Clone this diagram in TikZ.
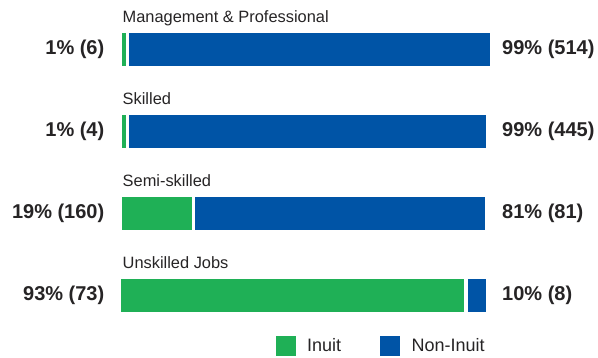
\documentclass[tikz,border=0pt]{standalone}
\usepackage{fontspec}
\setmainfont{Liberation Sans}
\definecolor{inuit}{RGB}{31,176,86}
\definecolor{noninuit}{RGB}{0,84,166}
\definecolor{txt}{RGB}{38,36,37}
\begin{document}
\begin{tikzpicture}[x=1pt,y=-1pt,
  bar/.style={anchor=north west,inner sep=0pt,minimum height=33pt},
  gbar/.style={bar,fill=inuit},
  bbar/.style={bar,fill=noninuit},
  cat/.style={anchor=base west,inner sep=0pt,text=txt,font=\fontsize{16.4}{19}\selectfont},
  lval/.style={anchor=east,inner sep=0pt,text=txt,font=\fontsize{20}{22}\selectfont\bfseries},
  rval/.style={anchor=west,inner sep=0pt,text=txt,font=\fontsize{20}{22}\selectfont\bfseries},
  key/.style={anchor=north west,inner sep=0pt,minimum width=20pt,minimum height=20pt},
  keytxt/.style={anchor=west,inner sep=0pt,text=txt,font=\fontsize{18}{20}\selectfont}]
\useasboundingbox (0,0) rectangle (598,357);
% Row 1
\node[cat] (c1) at (122.5,22) {Management \& Professional};
\node[gbar,minimum width=4pt] (g1) at (122,33) {};
\node[bbar,minimum width=361pt] (b1) at (129,33) {};
\node[lval] (l1) at (104.5,49.5) {1\% (6)};
\node[rval] (r1) at (502,49.5) {99\% (514)};
% Row 2
\node[cat] (c2) at (122.5,104) {Skilled};
\node[gbar,minimum width=4pt] (g2) at (122,115) {};
\node[bbar,minimum width=357pt] (b2) at (129,115) {};
\node[lval] (l2) at (104.5,131.5) {1\% (4)};
\node[rval] (r2) at (502,131.5) {99\% (445)};
% Row 3
\node[cat] (c3) at (122.5,186) {Semi-skilled};
\node[gbar,minimum width=70pt] (g3) at (122,197) {};
\node[bbar,minimum width=290pt] (b3) at (195,197) {};
\node[lval] (l3) at (104.5,213.5) {19\% (160)};
\node[rval] (r3) at (502,213.5) {81\% (81)};
% Row 4
\node[cat] (c4) at (122.5,268) {Unskilled Jobs};
\node[gbar,minimum width=343pt] (g4) at (121,279) {};
\node[bbar,minimum width=18pt] (b4) at (468,279) {};
\node[lval] (l4) at (104.5,295.5) {93\% (73)};
\node[rval] (r4) at (502,295.5) {10\% (8)};
% Legend
\node[key,fill=inuit] (k1) at (276,336) {};
\node[keytxt] (t1) at (307,345.5) {Inuit};
\node[key,fill=noninuit] (k2) at (380,336) {};
\node[keytxt] (t2) at (411.5,345.5) {Non-Inuit};
\end{tikzpicture}
\end{document}
